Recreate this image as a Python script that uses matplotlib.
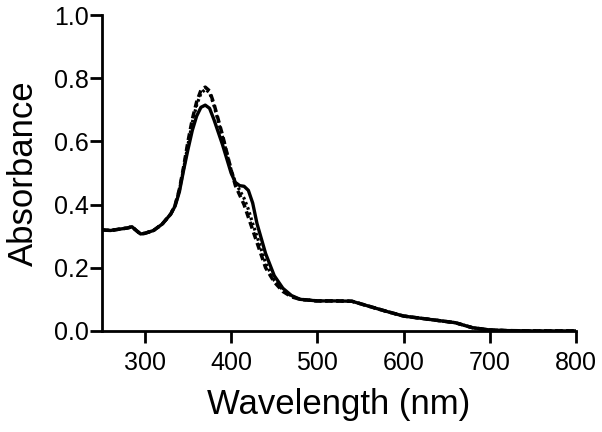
import matplotlib
matplotlib.use("Agg")
import matplotlib.pyplot as plt
import numpy as np

plt.rcParams['font.family'] = ['Liberation Sans', 'DejaVu Sans']

wavelength = [250, 260, 270, 280, 285, 290, 295, 300, 310, 320, 330, 335, 340, 345,
              350, 355, 360, 365, 370, 375, 380, 390, 400, 405, 410, 415, 420, 425,
              430, 440, 450, 460, 470, 480, 500, 520, 540, 560, 580, 600, 620, 640,
              660, 680, 700, 720, 750, 800]

abs_solid = [0.32, 0.318, 0.322, 0.326, 0.33, 0.318, 0.307, 0.309, 0.318, 0.338,
             0.37, 0.395, 0.44, 0.51, 0.575, 0.635, 0.68, 0.708, 0.715, 0.705, 0.67,
             0.59, 0.50, 0.47, 0.46, 0.458, 0.445, 0.405, 0.34, 0.245, 0.175, 0.135,
             0.112, 0.10, 0.095, 0.095, 0.094, 0.078, 0.062, 0.047, 0.040, 0.033,
             0.026, 0.010, 0.003, 0.001, 0.0, 0.0]

abs_dotted = [0.32, 0.318, 0.322, 0.326, 0.33, 0.318, 0.307, 0.309, 0.318, 0.338,
              0.37, 0.397, 0.445, 0.515, 0.59, 0.66, 0.715, 0.752, 0.765, 0.755,
              0.715, 0.615, 0.51, 0.47, 0.445, 0.42, 0.385, 0.34, 0.30, 0.215, 0.16,
              0.13, 0.11, 0.10, 0.095, 0.095, 0.094, 0.078, 0.062, 0.047, 0.040,
              0.033, 0.026, 0.010, 0.003, 0.001, 0.0, 0.0]

abs_dashed = [0.32, 0.318, 0.322, 0.326, 0.33, 0.318, 0.307, 0.309, 0.318, 0.338,
              0.37, 0.398, 0.448, 0.52, 0.60, 0.67, 0.725, 0.762, 0.772, 0.76, 0.72,
              0.62, 0.51, 0.46, 0.43, 0.40, 0.36, 0.32, 0.28, 0.20, 0.155, 0.125,
              0.108, 0.10, 0.095, 0.095, 0.094, 0.078, 0.062, 0.047, 0.040, 0.033,
              0.026, 0.010, 0.003, 0.001, 0.0, 0.0]

fig = plt.figure(figsize=(6.02, 4.32), dpi=100)
ax = fig.add_axes([0.169, 0.234, 0.788, 0.731])

ax.plot(wavelength, abs_dashed, color='black', lw=2.5, linestyle=(0, (2, 1.2)))
ax.plot(wavelength, abs_dotted, color='black', lw=2.3, linestyle=(0, (0.8, 0.9)))
ax.plot(wavelength, abs_solid, color='black', lw=2.4)

ax.set_xlim(250, 800)
ax.set_ylim(0, 1.0)
ax.set_xticks(np.arange(300, 801, 100))
ax.set_yticks(np.arange(0, 1.01, 0.2))
ax.yaxis.set_major_formatter(plt.FormatStrFormatter('%.1f'))

for side in ['top', 'right']:
    ax.spines[side].set_visible(False)
for side in ['left', 'bottom']:
    ax.spines[side].set_linewidth(2.0)

ax.tick_params(direction='out', length=8.5, width=2.0, labelsize=18)
ax.tick_params(axis='x', pad=6)
ax.tick_params(axis='y', pad=1)
ax.set_xlabel('Wavelength (nm)', fontsize=25, labelpad=9)
ax.set_ylabel('Absorbance', fontsize=25, labelpad=10)

fig.savefig('out.png', dpi=100)
